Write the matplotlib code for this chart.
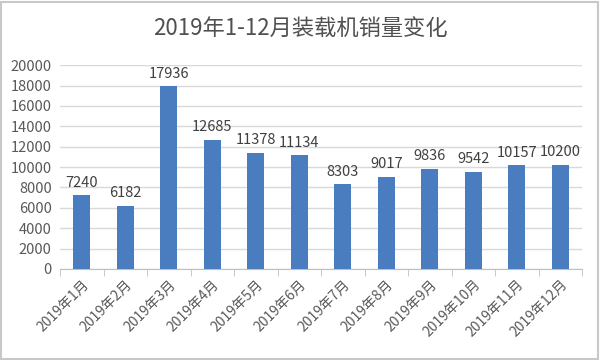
import numpy as np
import matplotlib.pyplot as plt
from matplotlib.patches import Rectangle

plt.rcParams['font.family'] = ['Noto Sans CJK SC', 'DejaVu Sans']

months = ['2019年%d月' % m for m in range(1, 13)]
sales = [7240, 6182, 17936, 12685, 11378, 11134, 8303, 9017, 9836, 9542, 10157, 10200]
yticks = list(range(0, 20001, 2000))

fig = plt.figure(figsize=(6, 3.6), dpi=100)
ax = fig.add_axes([0.1, 0.253, 0.87, 0.566])

x = np.arange(len(months))
bars = ax.bar(x, sales, width=0.4, color='#4a7dbf', zorder=3)
for xi, v in zip(x, sales):
    ax.text(xi, v + 550, str(v), ha='center', va='bottom', fontsize=10.5, color='#404040')

ax.set_ylim(0, 20000)
ax.set_yticks(yticks)
ax.set_xlim(-0.5, len(months) - 0.5)
ax.set_xticks(x)
ax.set_xticklabels(months, rotation=45, ha='right', rotation_mode='anchor', fontsize=10, color='#595959')
ax.set_xticks(np.arange(-0.5, len(months)), minor=True)
ax.tick_params(axis='x', which='major', length=0, pad=6)
ax.tick_params(axis='x', which='minor', length=5, color='#bfbfbf')
ax.tick_params(axis='y', length=0, labelsize=10.5, labelcolor='#595959', pad=6)
ax.grid(axis='y', color='#d9d9d9', linewidth=1, zorder=0)
for s in ['top', 'right', 'left']:
    ax.spines[s].set_visible(False)
ax.spines['bottom'].set_color('#bfbfbf')

fig.text(0.5, 0.918, '2019年1-12月装载机销量变化', ha='center', va='center', fontsize=16, color='#505050')
fig.patches.append(Rectangle((0.002, 0.003), 0.995, 0.992, transform=fig.transFigure,
                             fill=False, edgecolor='#c8c8c8', linewidth=1.5))

fig.savefig('out.png', dpi=100)
